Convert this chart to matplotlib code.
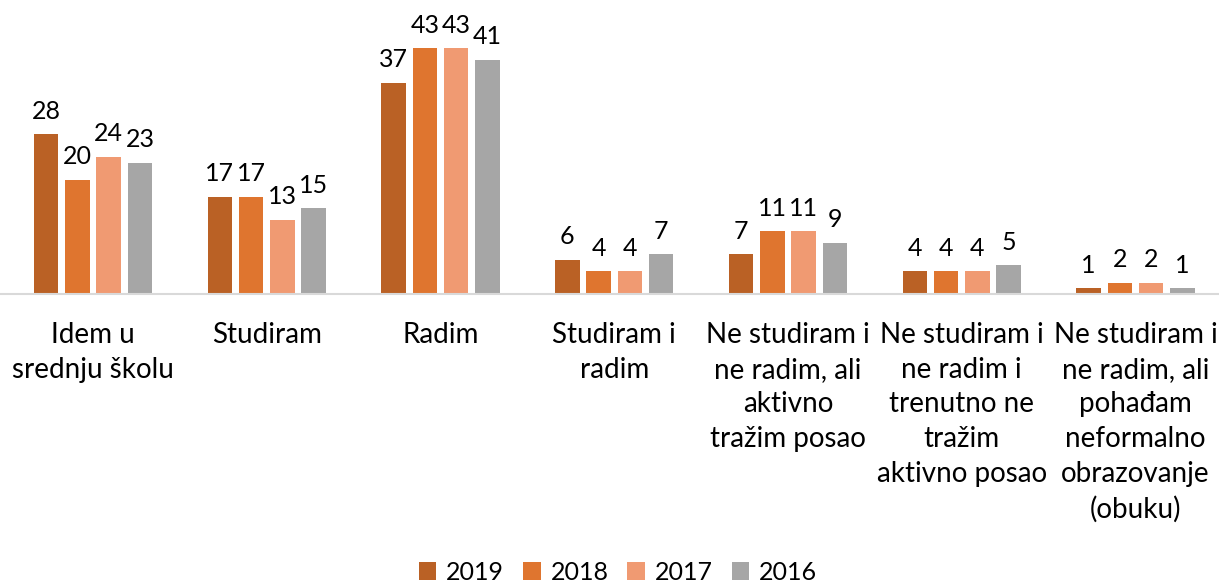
import numpy as np
import matplotlib.pyplot as plt

categories = [
    "Idem u\nsrednju školu",
    "Studiram",
    "Radim",
    "Studiram i\nradim",
    "Ne studiram i\nne radim, ali\naktivno\ntražim posao",
    "Ne studiram i\nne radim i\ntrenutno ne\ntražim\naktivno posao",
    "Ne studiram i\nne radim, ali\npohađam\nneformalno\nobrazovanje\n(obuku)",
]
years = ["2019", "2018", "2017", "2016"]
v2019 = [28, 17, 37, 6, 7, 4, 1]
v2018 = [20, 17, 43, 4, 11, 4, 2]
v2017 = [24, 13, 43, 4, 11, 4, 2]
v2016 = [23, 15, 41, 7, 9, 5, 1]
series = [v2019, v2018, v2017, v2016]
colors = ["#BA6125", "#DF752F", "#F09A72", "#A6A6A6"]

plt.rcParams["font.family"] = ["Lato", "DejaVu Sans"]

fig = plt.figure(figsize=(12.19, 5.83), dpi=100)
ax = fig.add_axes([0.0, 0.4957, 1.0, 0.49])

x = np.arange(len(categories))
pitch = 0.180
width = 0.141
for i, (vals, col, yr) in enumerate(zip(series, colors, years)):
    pos = x + (i - 1.5) * pitch
    bars = ax.bar(pos, vals, width=width, color=col, label=yr)
    for b, v in zip(bars, vals):
        ax.text(b.get_x() + b.get_width() / 2, v + 2.0, str(v),
                ha="center", va="bottom", fontsize=18, color="#000000")

# first group centre at ~93 px, groups ~174 px apart
ax.set_xlim(-93 / 173.75, (1219 - 93) / 173.75)
ax.set_ylim(0, 50)
ax.set_yticks([])
ax.set_xticks(x)
ax.set_xticklabels(categories, fontsize=20, linespacing=1.42, va="top")
ax.tick_params(axis="x", length=0, pad=20)
for s in ["top", "right", "left"]:
    ax.spines[s].set_visible(False)
ax.spines["bottom"].set_color("#D9D9D9")
ax.spines["bottom"].set_linewidth(1.5)

fig.legend(loc="lower center", ncol=4, frameon=False, fontsize=18,
           bbox_to_anchor=(0.507, -0.04), handlelength=0.7, handleheight=0.7,
           columnspacing=0.75, handletextpad=0.4)

fig.savefig("out.png", dpi=100)
